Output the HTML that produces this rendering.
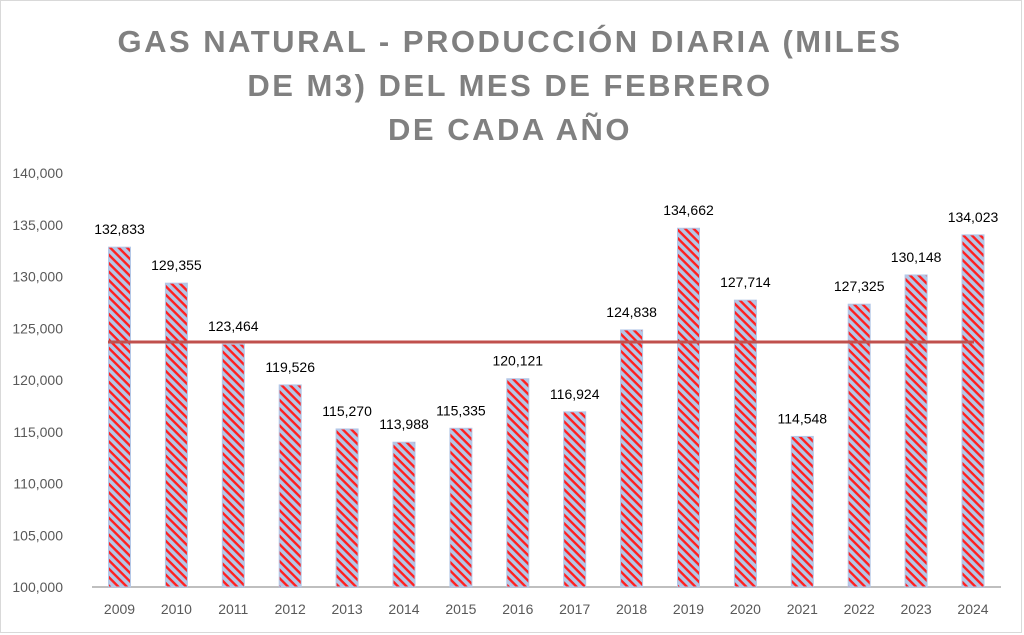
<!DOCTYPE html>
<html><head><meta charset="utf-8"><style>
body{margin:0;background:#fff;}
svg{display:block;font-family:"Liberation Sans",sans-serif;}
</style></head><body>
<svg width="1024" height="635" viewBox="0 0 1024 635">
<defs>
<pattern id="h" patternUnits="userSpaceOnUse" width="6" height="6" patternTransform="rotate(45)">
<rect width="6" height="6" fill="#b4c7e7"/>
<rect width="6" height="2.4" fill="#ff1f1f"/>
</pattern>
</defs>
<rect x="0.5" y="0.5" width="1021" height="632" fill="#fff" stroke="#d9d9d9"/>
<g fill="#808080" font-weight="bold" font-size="31" text-anchor="middle" letter-spacing="2.5">
<text x="510" y="52">GAS NATURAL - PRODUCCIÓN DIARIA (MILES</text>
<text x="510" y="96">DE M3) DEL MES DE FEBRERO</text>
<text x="510" y="140">DE CADA AÑO</text>
</g>
<g fill="#595959" font-size="14" text-anchor="end" id="y"></g>
<line x1="92" y1="587" x2="1001" y2="587" stroke="#bfbfbf" stroke-width="2"/>
<g id="bars"></g>
<line x1="108" y1="342" x2="974" y2="342" stroke="#c0504d" stroke-width="3"/>
<g id="labels" font-size="14" fill="#000" text-anchor="middle"></g>
<g id="x" font-size="14" fill="#595959" text-anchor="middle"></g>
<script>
var ns="http://www.w3.org/2000/svg";
function el(p,t,a,txt){var e=document.createElementNS(ns,t);for(var k in a)e.setAttribute(k,a[k]);if(txt)e.textContent=txt;document.getElementById(p).appendChild(e);}
function Y(v){return 587-(v-100000)/5000*51.75;}
for(var v=100000;v<=140000;v+=5000){el("y","text",{x:63,y:Y(v)+5},v.toLocaleString("en-US"));}
var d=[132833,129355,123464,119526,115270,113988,115335,120121,116924,124838,134662,127714,114548,127325,130148,134023];
d.forEach(function(v,i){var cx=119.5+i*56.9;var y=Y(v);
el("bars","rect",{x:cx-11,y:y,width:22,height:587-y,fill:"url(#h)",stroke:"#b4c7e7","stroke-width":1});
el("labels","text",{x:cx,y:y-13},v.toLocaleString("en-US"));
el("x","text",{x:cx,y:614},String(2009+i));});
</script>
</svg>
</body></html>
